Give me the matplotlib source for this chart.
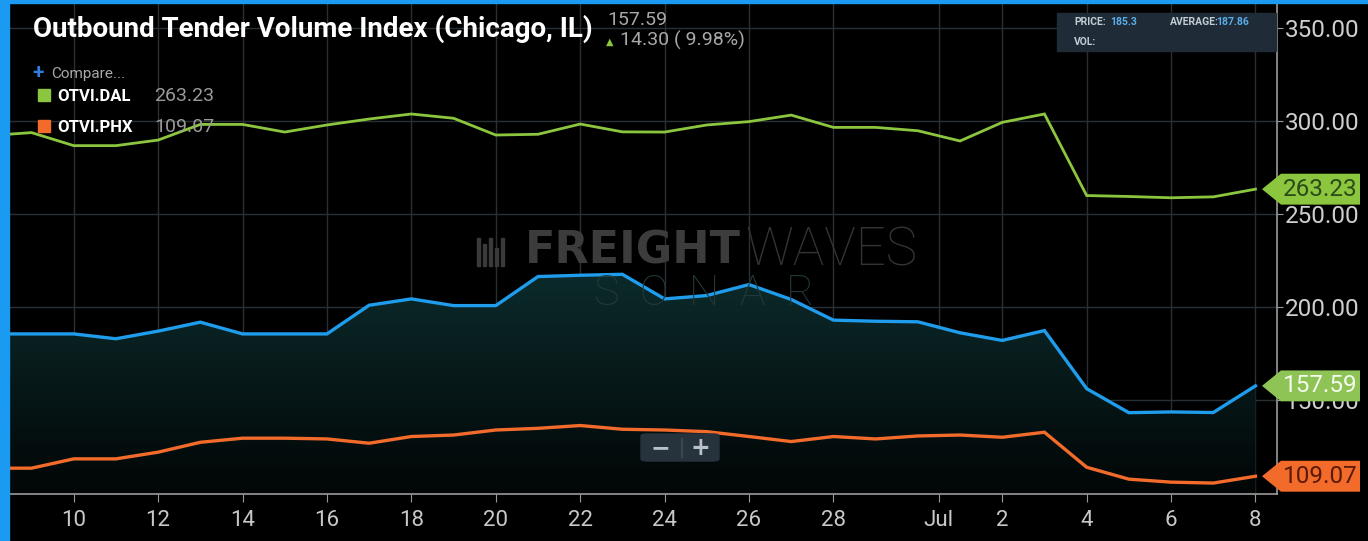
import numpy as np
import matplotlib
matplotlib.use('Agg')
import matplotlib.pyplot as plt
from matplotlib.patches import Polygon, Rectangle, FancyBboxPatch
from matplotlib.colors import LinearSegmentedColormap
import matplotlib.transforms as mtransforms

# day index: June d -> d, July d -> 30 + d
days = list(range(8, 39))

chi = [185.5, 185.5, 185.5, 182.9, 187.0, 191.8, 185.5, 185.5, 185.5, 200.9,
       204.3, 200.7, 200.7, 216.3, 217.0, 217.5, 204.3, 206.1, 212.0, 204.0,
       192.9, 192.3, 192.0, 186.1, 182.0, 187.3, 156.1, 143.2, 143.6, 143.29,
       157.59]
dal = [292.0, 293.6, 286.6, 286.6, 289.6, 298.0, 298.0, 293.9, 297.7, 300.9,
       303.6, 301.3, 292.3, 292.7, 298.2, 294.0, 293.9, 297.7, 299.5, 303.0,
       296.4, 296.4, 294.6, 289.1, 299.1, 303.6, 259.8, 259.3, 258.6, 259.1,
       263.23]
phx = [113.4, 113.4, 118.4, 118.4, 122.0, 127.3, 129.5, 129.5, 129.1, 126.8,
       130.4, 131.2, 133.9, 134.8, 136.3, 134.3, 133.9, 133.0, 130.4, 127.7,
       130.4, 129.1, 130.7, 131.2, 130.0, 132.7, 113.9, 107.5, 105.9, 105.4,
       109.07]

xtick_pos = [10, 12, 14, 16, 18, 20, 22, 24, 26, 28, 30.5, 32, 34, 36, 38]
xtick_lbl = ['10', '12', '14', '16', '18', '20', '22', '24', '26', '28',
             'Jul', '2', '4', '6', '8']
ytick_pos = [150, 200, 250, 300, 350]

BLUE = '#1f9ceb'
GREEN = '#8cc63f'
ORANGE = '#f26b2b'
W, H = 1368, 541

def fx(px):
    return px / W

def fy(py):
    return 1 - py / H

fig = plt.figure(figsize=(W / 100, H / 100), dpi=100, facecolor='black')
ax = fig.add_axes([fx(10), fy(493.5), 1267 / W, 490.5 / H])
ax.set_facecolor('black')

# blue frame strips
fig.patches.append(Rectangle((0, 0), fx(9), 1, transform=fig.transFigure,
                             color='#1a9af0', zorder=0))
fig.patches.append(Rectangle((0, fy(3)), 1, 3 / H, transform=fig.transFigure,
                             color='#1a9af0', zorder=0))

ymin, ymax = 99.8, 363.2

# gradient fill under the main series
verts = [(days[0], ymin)] + list(zip(days, chi)) + [(days[-1], ymin)]
poly = Polygon(verts, facecolor='none', edgecolor='none')
ax.add_patch(poly)
cmap = LinearSegmentedColormap.from_list('fill', ['#020606', '#0c2b2c'])
grad = np.linspace(0, 1, 256).reshape(-1, 1)
im = ax.imshow(grad, extent=[days[0], days[-1], ymin, 220], origin='lower',
               aspect='auto', cmap=cmap, zorder=1)
im.set_clip_path(poly)

ax.plot(days, dal, color=GREEN, lw=2.0, zorder=3, solid_joinstyle='miter')
ax.plot(days, chi, color=BLUE, lw=2.4, zorder=3, solid_joinstyle='miter')
ax.plot(days, phx, color=ORANGE, lw=2.4, zorder=3, solid_joinstyle='miter')

ax.set_xlim(8.49, 38.51)
ax.set_ylim(ymin, ymax)

ax.set_xticks(xtick_pos)
ax.set_xticklabels(xtick_lbl)
ax.set_yticks(ytick_pos)
ax.set_yticklabels(['%.2f' % v for v in ytick_pos])
ax.yaxis.tick_right()
ax.grid(True, color='#283036', lw=1)
ax.set_axisbelow(True)
for s in ['left', 'top']:
    ax.spines[s].set_visible(False)
for s in ['right', 'bottom']:
    ax.spines[s].set_color('#9a9a9a')
    ax.spines[s].set_linewidth(1.2)
ax.tick_params(axis='x', length=6, color='#9a9a9a', pad=6, labelsize=16,
               labelcolor='#c8c8c8')
ax.tick_params(axis='y', length=4, color='#9a9a9a', pad=2, labelsize=17.5,
               labelcolor='#cfcfcf')
for t in ax.get_xticklabels() + ax.get_yticklabels():
    t.set_family('Roboto')

# price tags on the right axis
blend = mtransforms.blended_transform_factory(ax.transAxes, ax.transData)
half = 8.3
def price_tag(val, face, tcolor):
    xt, xs, xr = (1262 - 10) / 1267, (1281 - 10) / 1267, (1360 - 10) / 1267
    p = Polygon([(xt, val), (xs, val + half), (xr, val + half),
                 (xr, val - half), (xs, val - half)], closed=True,
                facecolor=face, edgecolor='none', transform=blend,
                clip_on=False, zorder=10)
    ax.add_patch(p)
    ax.text((1283 - 10) / 1267, val, '%.2f' % val, transform=blend,
            ha='left', va='center', fontsize=17.5, family='Roboto',
            color=tcolor, zorder=11, clip_on=False)

price_tag(dal[-1], GREEN, '#2c4a18')
price_tag(chi[-1], '#8dc455', '#f4faee')
price_tag(phx[-1], ORANGE, '#5a1a06')

# watermark
fig.text(fx(741), fy(251), 'FREIGHT', ha='right', va='center', fontsize=32,
         family='DejaVu Sans', weight='bold', color='#3c3c3c', zorder=2)
fig.text(fx(745), fy(251), 'WAVES', ha='left', va='center', fontsize=38,
         family='Roboto', weight='light', color='#343434', zorder=2)
fig.text(fx(704), fy(293), 'S  O  N  A  R', ha='center', va='center',
         fontsize=31, family='Roboto', weight='light', color='#243838',
         zorder=2)
for bx, bh in [(477, 28), (483, 22), (489, 28), (495, 18), (501, 28)]:
    fig.patches.append(Rectangle((fx(bx), fy(266)), 3 / W, bh / H,
                                 transform=fig.transFigure, color='#3a3a3a'))

# title and header
fig.text(fx(33), fy(37), 'Outbound Tender Volume Index (Chicago, IL)',
         family='Roboto', weight='bold', fontsize=20, color='white',
         va='baseline')
fig.text(fx(607), fy(25), '%.2f' % chi[-1], fontsize=14, family='Roboto',
         color='#a8a8a8', va='baseline')
fig.text(fx(606), fy(45), '\u25b2', fontsize=7, family='DejaVu Sans',
         color=GREEN, va='baseline')
fig.text(fx(620), fy(46), '14.30 ( 9.98%)', fontsize=14, family='Roboto',
         color='#a8a8a8', va='baseline')

# compare / legend
fig.text(fx(32), fy(78), '+', fontsize=15, family='Roboto', weight='bold',
         color='#2f7de1', va='baseline')
fig.text(fx(51), fy(78), 'Compare...', fontsize=11, family='Roboto',
         color='#a8a8a8', va='baseline')
for py, col, name, val in [(101, GREEN, 'OTVI.DAL', dal[-1]),
                           (132, ORANGE, 'OTVI.PHX', phx[-1])]:
    fig.patches.append(Rectangle((fx(38), fy(py)), 12 / W, 12 / H,
                                 transform=fig.transFigure, color=col))
    fig.text(fx(57), fy(py), name, fontsize=12, family='Roboto',
             weight='bold', color='white', va='baseline', zorder=5)
    fig.text(fx(154), fy(py), '%.2f' % val, fontsize=14, family='Roboto',
             color='#9a9a9a', va='baseline', zorder=5)

# tooltip box
fig.patches.append(Rectangle((fx(1057), fy(51)), 219 / W, 38 / H,
                             transform=fig.transFigure, color='#1f2c38',
                             zorder=20))
tip = dict(fontsize=7.5, family='Roboto', va='center', zorder=21)
fig.text(fx(1074), fy(22), 'PRICE:', color='#c4ccd4', weight='bold', **tip)
fig.text(fx(1110), fy(22), '185.3', color='#5aaeea', weight='bold', **tip)
fig.text(fx(1170), fy(22), 'AVERAGE:', color='#c4ccd4', weight='bold', **tip)
fig.text(fx(1216), fy(22), '187.86', color='#5aaeea', weight='bold', **tip)
fig.text(fx(1074), fy(42), 'VOL:', color='#c4ccd4', weight='bold', **tip)

# zoom control
fig.patches.append(FancyBboxPatch((fx(641), fy(461)), 78 / W, 27 / H,
                                  boxstyle='round,pad=0,rounding_size=0.004',
                                  transform=fig.transFigure, color='#26323c',
                                  zorder=20))
fig.patches.append(Rectangle((fx(681), fy(457)), 1 / W, 19 / H,
                             transform=fig.transFigure, color='#3a4650',
                             zorder=21))
fig.text(fx(660), fy(448), '\u2212', fontsize=17, family='DejaVu Sans',
         weight='bold', color='#b8c0c8', ha='center', va='center', zorder=22)
fig.text(fx(700), fy(448), '+', fontsize=17, family='DejaVu Sans',
         weight='bold', color='#b8c0c8', ha='center', va='center', zorder=22)

fig.savefig('out.png', dpi=100, facecolor='black')
